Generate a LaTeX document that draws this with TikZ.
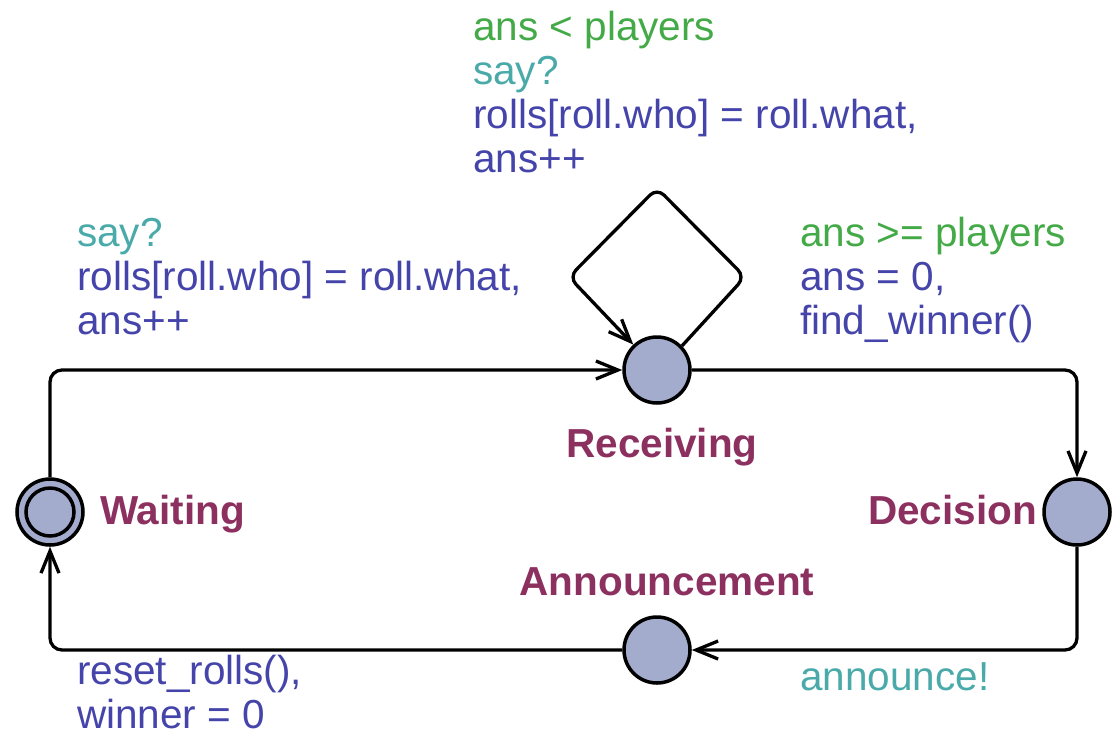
\documentclass[tikz,border=0pt]{standalone}
\usepackage{fontspec}
\setmainfont{Liberation Sans}
\usetikzlibrary{arrows.meta,calc}
\definecolor{guardgreen}{RGB}{68,170,72}
\definecolor{syncteal}{RGB}{74,170,170}
\definecolor{updblue}{RGB}{68,68,170}
\definecolor{locred}{RGB}{140,48,96}
\definecolor{locfill}{RGB}{164,172,206}
\begin{document}
\begin{tikzpicture}[x=1pt,y=-1pt]
	\tikzstyle{loc} = [circle, draw, fill=locfill, line width=3.5pt, minimum size=66pt, inner sep=0pt]
	\tikzstyle{edge} = [line width=3.3pt, rounded corners=12pt, -{Straight Barb[length=22pt,width=18pt]}]
	\tikzstyle{lbl} = [inner sep=0pt, align=left, anchor=base west, font=\fontsize{40.5}{44}\selectfont]
	\tikzstyle{locname} = [inner sep=0pt, text=locred, font=\fontsize{40.5}{44}\selectfont\bfseries]
	\useasboundingbox (0,0) rectangle (1115,734);
	\node[loc] (W) at (50,512) {};
	\draw[line width=3.5pt] (W) circle (24pt);
	\node[loc] (R) at (657,370) {};
	\node[loc] (D) at (1077,512) {};
	\node[loc] (A) at (657,650) {};
	\node[locname, anchor=base west] (Wname) at (100,524) {Waiting};
	\node[locname, anchor=base] (Rname) at (662,457) {Receiving};
	\node[locname, anchor=base east] (Dname) at (1037,524) {Decision};
	\node[locname, anchor=base] (Aname) at (667,595) {Announcement};
	\coordinate (loopR) at (745,277);
	\coordinate (loopT) at (657,188);
	\coordinate (loopL) at (569,277);
	\draw[edge] (W.north) |- (R.west);
	\draw[edge] (R.east) -| (D.north);
	\draw[edge] (D.south) |- (A.east);
	\draw[edge] (A.west) -| (W.south);
	\draw[edge, rounded corners=10pt] (R.44) -- (loopR) -- (loopT) -- (loopL) -- (R.133);
	% edge labels: base anchor is the last line
	\node[lbl] (loopLbl) at (473,172) {\textcolor{guardgreen}{ans < players}\\ \textcolor{syncteal}{say?}\\ \textcolor{updblue}{rolls[roll.who] = roll.what,}\\ \textcolor{updblue}{ans++}};
	\node[lbl] (recvLbl) at (77,334) {\textcolor{syncteal}{say?}\\ \textcolor{updblue}{rolls[roll.who] = roll.what,}\\ \textcolor{updblue}{ans++}};
	\node[lbl] (decLbl) at (800,334) {\textcolor{guardgreen}{ans >= players}\\ \textcolor{updblue}{ans = 0,}\\ \textcolor{updblue}{find\_winner()}};
	\node[lbl] (annLbl) at (800,690) {\textcolor{syncteal}{announce!}};
	\node[lbl] (resetLbl) at (77,728) {\textcolor{updblue}{reset\_rolls(),}\\ \textcolor{updblue}{winner = 0}};
\end{tikzpicture}
\end{document}
